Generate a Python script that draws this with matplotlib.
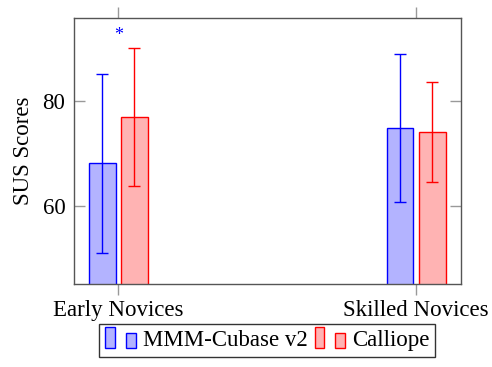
import numpy as np
import matplotlib
matplotlib.use("Agg")
import matplotlib.pyplot as plt
from matplotlib.patches import Rectangle
from matplotlib.container import BarContainer
from matplotlib.legend_handler import HandlerBase

plt.rcParams['font.family'] = ['Liberation Serif', 'DejaVu Serif']

groups = ["Early Novices", "Skilled Novices"]
cubase_mean = [68.1, 74.8]
cubase_err = [17.1, 14.1]
calliope_mean = [76.9, 74.1]
calliope_err = [13.2, 9.6]
series_names = ["MMM-Cubase v2", "Calliope"]
star_y = 92.5


class TwoBarHandler(HandlerBase):
    # legend image like pgfplots ybar: two small bars
    def create_artists(self, legend, orig, xd, yd, w, h, fontsize, trans):
        p = orig[0]
        fc = p.get_facecolor()
        ec = p.get_edgecolor()
        bw = w * 0.3
        r1 = Rectangle((xd, yd - h * 0.15), bw, h * 1.3, facecolor=fc,
                       edgecolor=ec, lw=1.0, transform=trans)
        r2 = Rectangle((xd + w * 0.65, yd - h * 0.15), bw, h * 0.95, facecolor=fc,
                       edgecolor=ec, lw=1.0, transform=trans)
        return [r1, r2]


fig = plt.figure(figsize=(4.92, 3.67), dpi=100)
ax = fig.add_axes([0.150, 0.227, 0.786, 0.725])

x = np.arange(len(groups))
w = 0.09
off = 0.054
b1 = ax.bar(x - off, cubase_mean, w, color='#b3b3ff', edgecolor='blue', lw=1.0)
b2 = ax.bar(x + off, calliope_mean, w, color='#ffb3b3', edgecolor='red', lw=1.0)
ax.errorbar(x - off, cubase_mean, yerr=cubase_err, fmt='none', ecolor='blue',
            elinewidth=1.0, capsize=4.5, capthick=1.0)
ax.errorbar(x + off, calliope_mean, yerr=calliope_err, fmt='none', ecolor='red',
            elinewidth=1.0, capsize=4.5, capthick=1.0)

ax.text(x[0], star_y, '*', color='blue', ha='center', va='center', fontsize=13)

ax.set_xlim(-0.149, 1.149)
ax.set_ylim(45.1, 95.9)
ax.set_yticks([60, 80])
ax.set_xticks(x)
ax.set_xticklabels(groups, fontsize=16.5)
ax.tick_params(axis='y', labelsize=16.5, direction='in', length=8, color='#999999',
               right=True, width=1.0, pad=6)
ax.tick_params(axis='x', direction='out', length=8, color='#999999', top=True,
               width=1.0, pad=4)
ax.set_ylabel('SUS Scores', fontsize=16.5, labelpad=6)
for s in ax.spines.values():
    s.set_color('#555555')
    s.set_linewidth(1.0)

leg = fig.legend(handles=[b1, b2], labels=series_names, ncol=2, loc='upper center',
                 bbox_to_anchor=(0.5435, 0.117), bbox_transform=fig.transFigure,
                 borderaxespad=0, fontsize=16.5, frameon=True, fancybox=False,
                 edgecolor='black', handler_map={BarContainer: TwoBarHandler()},
                 handlelength=1.4, handletextpad=0.25, columnspacing=0.3,
                 borderpad=0.25)
leg.get_frame().set_linewidth(1.0)

fig.savefig('out.png', dpi=100)
